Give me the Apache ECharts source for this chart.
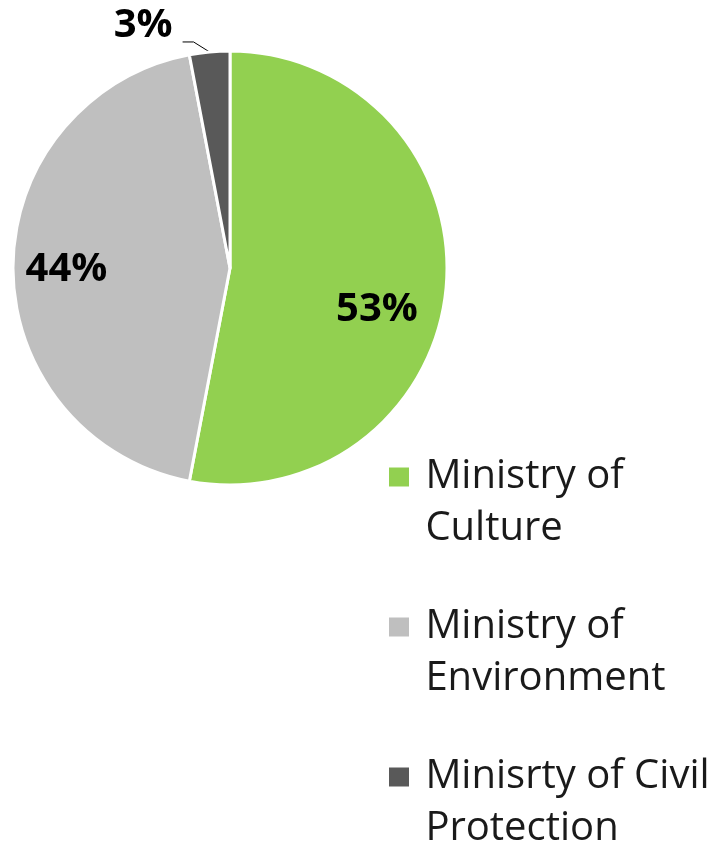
<!DOCTYPE html>
<html>
<head>
<meta charset="utf-8">
<script src="https://cdn.jsdelivr.net/npm/echarts@6/dist/echarts.min.js"></script>
<style>
  html, body { margin: 0; padding: 0; background: #ffffff; }
  #chart { width: 715px; height: 843px; }
</style>
</head>
<body>
<div id="chart"></div>
<script>
// Share of funding by ministry
const categories = ['Ministry of Culture', 'Ministry of Environment', 'Minisrty of Civil Protection'];
const shares = [53, 44, 3];
const legendLines = [['Ministry of', 'Culture'], ['Ministry of', 'Environment'], ['Minisrty of Civil', 'Protection']];
const colors = ['#92D050', '#BFBFBF', '#595959'];

// label placement per slice: two inside, the small slice outside with a leader line
const labelPlacement = [
  { position: 'inside', offset: [36, 31] },
  { position: 'inside', offset: [-52, 2] },
  { position: 'outside' }
];

const chart = echarts.init(document.getElementById('chart'), null, { renderer: 'canvas' });

const data = categories.map((name, i) => ({
  name: name,
  value: shares[i],
  itemStyle: { color: colors[i] },
  label: labelPlacement[i]
}));

// legend text: an empty leading line keeps the first text line level with the swatch
function legendText(name) {
  const lines = legendLines[categories.indexOf(name)];
  return ' \n' + lines.map(l => ' ' + l).join('\n');
}

chart.setOption({
  animation: false,
  backgroundColor: '#ffffff',
  legend: {
    orient: 'vertical',
    left: 387,
    top: 399,
    height: 470,
    padding: 0,
    itemGap: -6,
    itemWidth: 22,
    itemHeight: 21,
    icon: 'rect',
    data: categories,
    formatter: legendText,
    textStyle: {
      fontFamily: 'Open Sans',
      fontSize: 40,
      color: '#1a1a1a',
      lineHeight: 52
    }
  },
  series: [{
    type: 'pie',
    center: [230, 268],
    radius: [0, 217],
    startAngle: 90,
    clockwise: true,
    avoidLabelOverlap: false,
    itemStyle: { borderColor: '#ffffff', borderWidth: 3 },
    label: {
      show: true,
      formatter: '{c}%',
      fontFamily: 'Open Sans',
      fontWeight: 'bold',
      fontSize: 40,
      color: '#000000'
    },
    labelLine: {
      show: true,
      length: 19,
      length2: 11,
      lineStyle: { color: '#000000', width: 1 }
    },
    // the small slice's leader bends up-left from its edge, label sits above the elbow
    labelLayout: function (params) {
      if (params.dataIndex !== 2 || !params.labelLinePoints) return;
      const s = params.labelLinePoints[0];
      return {
        x: s[0] - 37,
        y: s[1] - 26,
        align: 'right',
        verticalAlign: 'middle',
        labelLinePoints: [s, [s[0] - 16, s[1] - 10], [s[0] - 27, s[1] - 10]]
      };
    },
    emphasis: { disabled: true },
    data: data
  }]
});
</script>
</body>
</html>
